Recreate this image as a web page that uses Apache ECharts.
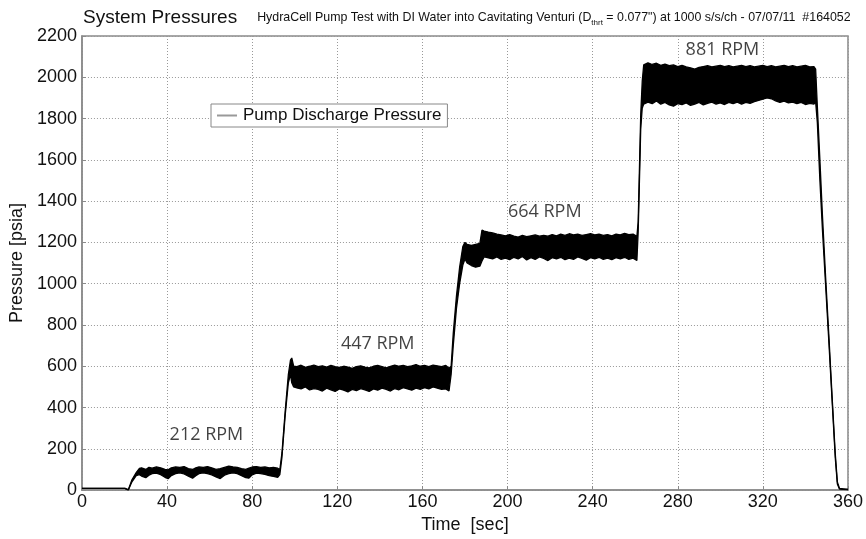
<!DOCTYPE html>
<html>
<head>
<meta charset="utf-8">
<title>System Pressures</title>
<script src="https://cdn.jsdelivr.net/npm/echarts@6/dist/echarts.min.js"></script>
<style>
  html, body { margin: 0; padding: 0; background: #fff; }
  #main { width: 866px; height: 539px; }
</style>
</head>
<body>
<div id="main"></div>
<script>
// time [sec] and the lower / upper edge of the pressure trace [psia]
const time = [
  0, 20.2, 20.8, 21.8, 23.5, 25.5, 27, 28, 30, 31.5, 33, 35, 37, 39, 40.5, 42, 44, 46, 48, 50,
  52, 53.5, 55, 57, 59, 61, 63, 65, 67, 69, 71, 73, 75, 77, 78.5, 80, 82, 84, 86, 88,
  90, 92, 93, 94, 95.5, 97, 98, 98.6, 99.5, 101, 103, 105, 107, 109, 111, 113, 115, 117, 119, 121,
  123, 125, 127, 129, 131, 133, 135, 137, 139, 141, 143, 145, 147, 149, 151, 153, 155, 157, 159, 161,
  163, 165, 167, 169, 171, 172.5, 173.5, 174.5, 176, 177.5, 179, 180, 181, 183, 185, 187, 188, 189, 191, 193,
  195, 197, 199, 201, 203, 205, 207, 209, 211, 213, 215, 217, 219, 221, 223, 225, 227, 229, 231, 233,
  235, 237, 239, 241, 243, 245, 247, 249, 251, 253, 255, 257, 259, 260.8, 261.4, 262, 262.6, 263.3, 264, 266,
  268, 270, 272, 274, 276, 278, 280, 282, 284, 286, 288, 290, 292, 294, 296, 298, 300, 302, 304, 306,
  308, 310, 312, 314, 316, 318, 320, 322, 324, 326, 328, 330, 332, 334, 336, 338, 340, 342, 344, 344.8,
  345.6, 346.8, 348, 349.5, 351, 352.5, 354, 355, 356, 360
];
const lower = [
  8, 8, 0, 0, 40, 70, 75, 68, 60, 72, 80, 82, 75, 62, 55, 70, 80, 84, 78, 68,
  58, 70, 80, 84, 80, 74, 64, 56, 72, 80, 84, 80, 70, 60, 58, 74, 82, 80, 76, 70,
  66, 62, 75, 160, 360, 520, 560, 520, 500, 495, 490, 500, 485, 492, 488, 480, 494, 486, 478, 490,
  484, 476, 488, 482, 492, 486, 478, 490, 484, 494, 488, 480, 492, 486, 496, 490, 484, 494, 488, 496,
  490, 500, 494, 488, 490, 480, 560, 700, 880, 1000, 1090, 1120, 1100, 1088, 1080, 1085, 1110, 1130, 1125, 1120,
  1130, 1118, 1124, 1116, 1128, 1120, 1132, 1115, 1126, 1118, 1130, 1122, 1112, 1126, 1120, 1128, 1116, 1124, 1118, 1130,
  1122, 1114, 1126, 1120, 1128, 1118, 1124, 1116, 1126, 1120, 1128, 1118, 1124, 1112, 1250, 1500, 1750, 1850, 1870, 1880,
  1872, 1885, 1870, 1878, 1866, 1860, 1872, 1868, 1876, 1864, 1870, 1878, 1866, 1874, 1880, 1870, 1876, 1868, 1878, 1872,
  1880, 1870, 1878, 1874, 1882, 1888, 1894, 1900, 1896, 1886, 1878, 1884, 1876, 1880, 1872, 1878, 1868, 1874, 1870, 1880,
  1780, 1500, 1260, 990, 720, 440, 160, 30, 5, 3
];
const upper = [
  8, 8, 0, 2, 50, 85, 105, 108, 100, 110, 106, 112, 108, 100, 98, 108, 112, 110, 114, 104,
  100, 108, 112, 110, 114, 108, 100, 104, 110, 116, 112, 110, 104, 100, 106, 112, 114, 110, 112, 108,
  110, 106, 100, 180, 380, 560, 630, 640, 600, 598, 605, 595, 600, 606, 598, 602, 596, 604, 598, 594,
  600, 596, 590, 598, 602, 596, 592, 600, 604, 598, 592, 600, 606, 600, 604, 598, 602, 608, 600, 604,
  598, 606, 602, 598, 604, 590, 600, 760, 940, 1080, 1180, 1200, 1190, 1185, 1190, 1195, 1260, 1255, 1250, 1246,
  1240, 1236, 1232, 1238, 1230, 1226, 1234, 1228, 1232, 1236, 1230, 1234, 1230, 1238, 1232, 1240, 1234, 1242, 1236, 1240,
  1234, 1238, 1242, 1236, 1240, 1234, 1238, 1232, 1240, 1236, 1244, 1238, 1240, 1230, 1300, 1560, 1820, 1980, 2060, 2070,
  2062, 2068, 2058, 2064, 2056, 2060, 2052, 2058, 2050, 2046, 2040, 2048, 2052, 2056, 2050, 2054, 2058, 2052, 2056, 2050,
  2054, 2058, 2052, 2056, 2050, 2054, 2058, 2052, 2056, 2050, 2054, 2058, 2052, 2056, 2050, 2054, 2058, 2050, 2052, 2040,
  1860, 1600, 1330, 1030, 750, 460, 180, 40, 8, 3
];

// pump speed annotations
const rpmText = ['212 RPM', '447 RPM', '664 RPM', '881 RPM'];
const rpmTime = [58.5, 139, 217.5, 301];
const rpmLevel = [269, 707, 1347, 2135];

const fontMain = 'Arial, "Liberation Sans", sans-serif';

const upperData = time.map((t, i) => [t, upper[i]]);
const lowerData = time.map((t, i) => [t, lower[i]]);

const labelData = rpmText.map((s, i) => {
    const item = { name: s, value: [rpmTime[i], rpmLevel[i]] };
    if (i === 3) {
        item.label = { backgroundColor: '#fff', padding: [1, 3, 0, 3] };
    }
    return item;
});

// closed band: upper edge forward, lower edge back
function renderBand(params, api) {
    if (params.dataIndex !== 0) return null;
    const pts = [];
    for (let i = 0; i < time.length; i++) pts.push(api.coord([time[i], upper[i]]));
    for (let i = time.length - 1; i >= 0; i--) pts.push(api.coord([time[i], lower[i]]));
    return {
        type: 'polygon',
        shape: { points: pts },
        style: { fill: '#000' }
    };
}

const chart = echarts.init(document.getElementById('main'));
chart.setOption({
    animation: false,
    backgroundColor: '#fff',
    title: {
        left: 83,
        top: 8,
        padding: 0,
        text: '{a|System Pressures}    {b|HydraCell Pump Test with DI Water into Cavitating Venturi (D}{s|thrt}{b| = 0.077") at 1000 s/s/ch - 07/07/11  #164052}',
        textStyle: {
            rich: {
                a: { fontSize: 19, fontFamily: fontMain, fontWeight: 'normal', color: '#111' },
                b: { fontSize: 12.4, fontFamily: fontMain, fontWeight: 'normal', color: '#111' },
                s: { fontSize: 8, fontFamily: fontMain, fontWeight: 'normal', color: '#111', verticalAlign: 'bottom', padding: [6, 0, 0, 0] }
            }
        }
    },
    legend: {
        left: 211,
        top: 104,
        padding: [3, 6, 3, 6],
        borderColor: '#888',
        borderWidth: 1,
        backgroundColor: '#fff',
        itemWidth: 20,
        itemHeight: 2,
        itemGap: 4,
        data: [{ name: 'Pump Discharge Pressure', icon: 'rect', itemStyle: { color: '#999' } }],
        textStyle: { fontSize: 17, fontFamily: fontMain, color: '#111', padding: [0, 0, 0, 1] }
    },
    grid: {
        left: 80,
        right: 17,
        top: 36,
        bottom: 46,
        show: true,
        borderColor: '#8a8a8a',
        borderWidth: 1.5
    },
    xAxis: {
        type: 'value',
        min: 0,
        max: 360,
        interval: 40,
        name: 'Time  [sec]',
        nameLocation: 'middle',
        nameGap: 22,
        nameTextStyle: { fontSize: 18, fontFamily: fontMain, color: '#111' },
        axisLine: { lineStyle: { color: '#8a8a8a', width: 1.5 } },
        axisTick: { inside: true, length: 4, lineStyle: { color: '#8a8a8a' } },
        axisLabel: { fontSize: 18, fontFamily: fontMain, color: '#111', margin: 3, formatter: v => String(v) },
        splitLine: { lineStyle: { type: [1, 2], color: '#999' } }
    },
    yAxis: {
        type: 'value',
        min: 0,
        max: 2200,
        interval: 200,
        name: 'Pressure [psia]',
        nameLocation: 'middle',
        nameGap: 54,
        nameTextStyle: { fontSize: 18, fontFamily: fontMain, color: '#111' },
        axisLine: { show: true, lineStyle: { color: '#8a8a8a', width: 1.5 } },
        axisTick: { show: true, inside: true, length: 4, lineStyle: { color: '#8a8a8a' } },
        axisLabel: { fontSize: 18, fontFamily: fontMain, color: '#111', margin: 5, formatter: v => String(v) },
        splitLine: { lineStyle: { type: [1, 2], color: '#999' } }
    },
    series: [
        {
            name: 'Pump Discharge Pressure',
            type: 'custom',
            renderItem: renderBand,
            data: upperData,
            itemStyle: { color: '#999' },
            clip: true,
            silent: true
        },
        {
            name: 'upperEdge',
            type: 'line',
            data: upperData,
            showSymbol: false,
            lineStyle: { color: '#000', width: 1.3 },
            silent: true
        },
        {
            name: 'lowerEdge',
            type: 'line',
            data: lowerData,
            showSymbol: false,
            lineStyle: { color: '#000', width: 1.3 },
            silent: true
        },
        {
            name: 'rpm',
            type: 'scatter',
            data: labelData,
            symbolSize: 0,
            silent: true,
            z: 5,
            label: {
                show: true,
                position: 'inside',
                formatter: '{b}',
                fontSize: 18,
                fontFamily: '"Open Sans", sans-serif',
                color: '#111'
            }
        }
    ]
});
</script>
</body>
</html>
